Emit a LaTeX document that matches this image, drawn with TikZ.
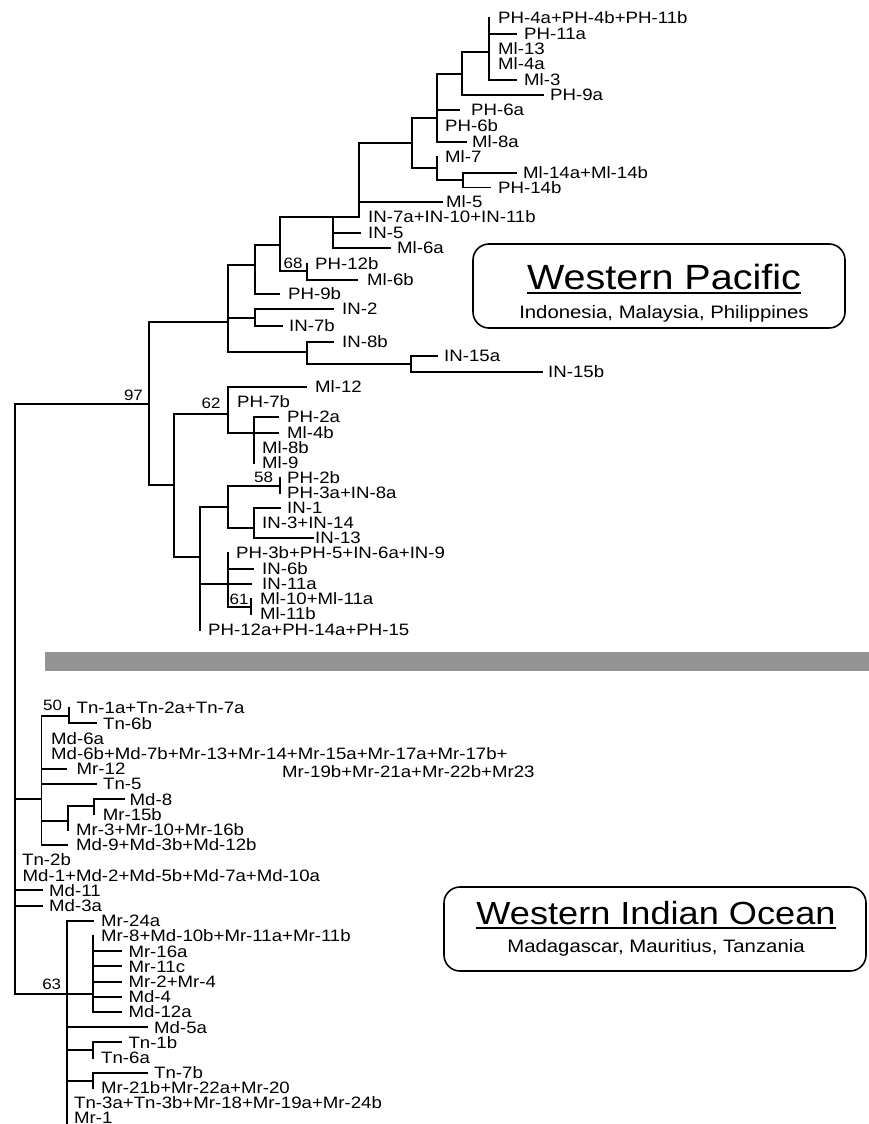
\documentclass[tikz,border=0pt]{standalone}
\usepackage{fontspec}
\setmainfont{Liberation Sans}[FakeStretch=1.13]
\newcommand\leaf[4]{\node[lab] (#1) at (#2,#3) {#4};}
\newcommand\brV[3]{\draw[br] (#1,#2) -- (#1,#3);}
\newcommand\brH[3]{\draw[br] (#2,#1) -- (#3,#1);}
\begin{document}
\begin{tikzpicture}[x=1pt,y=-1pt,
  br/.style={line width=1.9pt,line cap=rect},
  lab/.style={anchor=west,inner sep=0pt,text height=11.8pt,text depth=0pt,font=\fontsize{16.5}{17}\selectfont},
  bs/.style={inner sep=0pt,font=\fontsize{15}{15}\selectfont},
  regbox/.style={draw,rounded corners=16pt,line width=1.6pt,inner sep=0pt},
  titleA/.style={anchor=base,inner sep=0pt,font=\fontsize{35}{35}\selectfont},
  titleB/.style={anchor=base,inner sep=0pt,font=\fontsize{32}{32}\selectfont},
  subt/.style={anchor=base,inner sep=0pt,font=\fontsize{18}{18}\selectfont},
  uline/.style={line width=1.9pt}]
\useasboundingbox (0,0) rectangle (869,1124);

% ================= Western Pacific clade =================
\leaf{PHfour}{498}{18}{PH-4a+PH-4b+PH-11b}
\leaf{PHelevena}{524}{34}{PH-11a}
\leaf{Mlthirteen}{498}{48.5}{Ml-13}
\leaf{Mlfoura}{498}{64}{Ml-4a}
\leaf{Mlthree}{524}{80}{Ml-3}
\leaf{PHninea}{550}{95}{PH-9a}
\leaf{PHsixa}{471}{110}{PH-6a}
\leaf{PHsixb}{445}{126}{PH-6b}
\leaf{Mleighta}{472}{142}{Ml-8a}
\leaf{Mlseven}{445}{157}{Ml-7}
\leaf{Mlfourteen}{523}{173}{Ml-14a+Ml-14b}
\leaf{PHfourteenb}{498}{187.5}{PH-14b}
\leaf{Mlfive}{446}{202}{Ml-5}
\leaf{INsevena}{368}{217}{IN-7a+IN-10+IN-11b}
\leaf{INfive}{368}{233}{IN-5}
\leaf{Mlsixa}{397}{248}{Ml-6a}
\leaf{PHtwelveb}{315}{264}{PH-12b}
\leaf{Mlsixb}{367}{280}{Ml-6b}
\leaf{PHnineb}{288}{294}{PH-9b}
\leaf{INtwo}{342}{309}{IN-2}
\leaf{INsevenb}{289}{326}{IN-7b}
\leaf{INeightb}{342}{342}{IN-8b}
\leaf{INfifteena}{444}{356}{IN-15a}
\leaf{INfifteenb}{548}{372}{IN-15b}
\leaf{Mltwelve}{315}{387}{Ml-12}
\leaf{PHsevenb}{237}{402}{PH-7b}
\leaf{PHtwoa}{287}{417}{PH-2a}
\leaf{Mlfourb}{287}{433}{Ml-4b}
\leaf{Mleightb}{262}{448}{Ml-8b}
\leaf{Mlnine}{262}{463}{Ml-9}
\leaf{PHtwob}{287}{478}{PH-2b}
\leaf{PHthreea}{287}{493}{PH-3a+IN-8a}
\leaf{INone}{287}{508}{IN-1}
\leaf{INthree}{262}{523}{IN-3+IN-14}
\leaf{INthirteen}{315}{538}{IN-13}
\leaf{PHthreeb}{236}{553}{PH-3b+PH-5+IN-6a+IN-9}
\leaf{INsixb}{262}{569}{IN-6b}
\leaf{INelevena}{262}{584}{IN-11a}
\leaf{Mlten}{260}{599}{Ml-10+Ml-11a}
\leaf{Mlelevenb}{260}{614}{Ml-11b}
\leaf{PHtwelvea}{208}{630}{PH-12a+PH-14a+PH-15}

% bootstrap values
\node[bs] (bNinetySeven) at (133.5,395) {97};
\node[bs] (bSixtyEight) at (293,263) {68};
\node[bs] (bSixtyTwo) at (211,403) {62};
\node[bs] (bFiftyEight) at (263.5,477) {58};
\node[bs] (bSixtyOne) at (239,599) {61};

% branches
\brV{489}{18}{80} \brH{52}{462}{489}
\brH{34}{489}{516} \brH{80}{489}{516}
\brV{462}{52}{95} \brH{74}{437}{462}
\brH{95}{462}{543}
\brV{437}{74}{142} \brH{118}{412}{437}
\brH{110}{437}{459} \brH{142}{437}{466}
\brV{437}{157}{180} \brH{168}{412}{437}
\brV{463}{173}{187.5} \brH{180}{437}{463}
\brH{173}{463}{516} \brH{187.5}{463}{490}
\brV{412}{118}{168} \brH{143}{359}{412}
\brV{359}{143}{217} \brH{217}{333}{359}
\brH{202}{359}{442}
\brV{333}{217}{248} \brH{217}{280}{333}
\brH{233}{333}{360} \brH{248}{333}{390}
\brV{280}{217}{271} \brH{245}{255}{280}
\brV{307}{264}{280} \brH{271}{280}{307}
\brH{280}{307}{357}
\brV{255}{245}{294} \brH{265}{228}{255}
\brH{294}{255}{279}
\brV{255}{309}{326} \brH{318}{228}{255}
\brH{309}{255}{333} \brH{326}{255}{282}
\brV{307}{342}{364} \brH{352}{228}{307}
\brH{342}{307}{333}
\brV{411}{356}{372} \brH{364}{307}{411}
\brH{356}{411}{437} \brH{372}{411}{542}
\brV{228}{265}{352} \brH{322}{149}{228}
\brV{149}{322}{485} \brH{404}{15}{149}
\brV{174}{414}{557} \brH{485}{149}{174}
\brV{228}{387}{433} \brH{414}{174}{228}
\brH{387}{228}{306}
\brV{254}{417}{463} \brH{433}{228}{254}
\brH{417}{254}{278} \brH{433}{254}{278}
\brV{200}{507}{630} \brH{557}{174}{200}
\brV{228}{486}{528} \brH{507}{200}{228}
\brV{280}{478}{493} \brH{486}{228}{280}
\brV{254}{508}{538} \brH{528}{228}{254}
\brH{508}{254}{280} \brH{538}{254}{313}
\brV{228}{553}{607} \brH{584}{200}{228}
\brH{569}{228}{253} \brH{584}{228}{251}
\brV{251}{599}{614} \brH{607}{228}{251}

% ================= separator =================
\fill[black!42] (45,652) rectangle (869,671);

% ================= Western Indian Ocean clade =================
\leaf{Tnonea}{76.5}{708}{Tn-1a+Tn-2a+Tn-7a}
\leaf{Tnsixb}{103}{723.2}{Tn-6b}
\leaf{Mdsixa}{51}{738.4}{Md-6a}
\leaf{Mdsixb}{51}{753.6}{Md-6b+Md-7b+Mr-13+Mr-14+Mr-15a+Mr-17a+Mr-17b+}
\leaf{Mrnineteenb}{282}{771.7}{Mr-19b+Mr-21a+Mr-22b+Mr23}
\leaf{Mrtwelve}{76.5}{768.8}{Mr-12}
\leaf{Tnfive}{103}{784}{Tn-5}
\leaf{Mdeight}{129.5}{799.2}{Md-8}
\leaf{Mrfifteenb}{102.6}{814.4}{Mr-15b}
\leaf{Mrthree}{76}{829.6}{Mr-3+Mr-10+Mr-16b}
\leaf{Mdnine}{76}{844.8}{Md-9+Md-3b+Md-12b}
\leaf{Tntwob}{22}{860}{Tn-2b}
\leaf{Mdone}{22.5}{875.2}{Md-1+Md-2+Md-5b+Md-7a+Md-10a}
\leaf{Mdeleven}{49}{890.4}{Md-11}
\leaf{Mdthreea}{49}{905.6}{Md-3a}
\leaf{Mrtwentyfoura}{101}{920.8}{Mr-24a}
\leaf{Mreight}{101}{936}{Mr-8+Md-10b+Mr-11a+Mr-11b}
\leaf{Mrsixteena}{128.3}{951.2}{Mr-16a}
\leaf{Mrelevenc}{128.3}{966.4}{Mr-11c}
\leaf{Mrtwo}{128.3}{981.6}{Mr-2+Mr-4}
\leaf{Mdfour}{128.3}{996.8}{Md-4}
\leaf{Mdtwelvea}{128.3}{1012}{Md-12a}
\leaf{Mdfivea}{154}{1027.2}{Md-5a}
\leaf{Tnoneb}{128.3}{1042.4}{Tn-1b}
\leaf{Tnsixa}{101}{1057.6}{Tn-6a}
\leaf{Tnsevenb}{154}{1072.8}{Tn-7b}
\leaf{Mrtwentyoneb}{101}{1088}{Mr-21b+Mr-22a+Mr-20}
\leaf{Tnthreea}{74}{1102.8}{Tn-3a+Tn-3b+Mr-18+Mr-19a+Mr-24b}
\leaf{Mrone}{74}{1117.6}{Mr-1}

\node[bs] (bFifty) at (52.6,705) {50};
\node[bs] (bSixtyThree) at (51.7,984.3) {63};

% root and Western Indian Ocean branches
\brV{15}{404}{994}
\brV{41.5}{716}{844.8} \brH{799}{15}{41.5}
\brV{69}{708}{723.2} \brH{716}{41.5}{69}
\brH{723.2}{69}{96}
\brH{768.8}{41.5}{66}
\brH{784}{41.5}{96}
\brV{68}{806}{829.6} \brH{821}{41.5}{68}
\brV{94}{799.2}{814.4} \brH{806}{68}{94}
\brH{799.2}{94}{124.5}
\brH{844.8}{41.5}{67}
\brH{890.4}{15}{42}
\brH{905.6}{15}{42}
\brV{67.3}{920.8}{1130} \brH{994}{15}{67.3}
\brH{920.8}{67.3}{93.3}
\brV{92.7}{936}{1012} \brH{994}{67.3}{92.7}
\brH{951.2}{92.7}{120.7}
\brH{966.4}{92.7}{120.7}
\brH{981.6}{92.7}{120.7}
\brH{996.8}{92.7}{120.7}
\brH{1012}{92.7}{120.7}
\brH{1027.2}{67.3}{146.7}
\brV{92.7}{1042.4}{1057.6} \brH{1050}{67.3}{92.7}
\brH{1042.4}{92.7}{120.7}
\brV{92.7}{1072.8}{1088} \brH{1081}{67.3}{92.7}
\brH{1072.8}{92.7}{146.7}

% ================= region boxes =================
\node[regbox,minimum width=372pt,minimum height=84pt] (boxWP) at (659,286) {};
\node[titleA] (tWP) at (664,289) {Western Pacific};
\draw[uline] ([yshift=-4pt]tWP.base west) -- ([yshift=-4pt]tWP.base east);
\node[subt] (sWP) at (664,318) {Indonesia, Malaysia, Philippines};

\node[regbox,minimum width=422pt,minimum height=84pt] (boxWIO) at (655,929) {};
\node[titleB] (tWIO) at (656,924) {Western Indian Ocean};
\draw[uline] ([yshift=-4pt]tWIO.base west) -- ([yshift=-4pt]tWIO.base east);
\node[subt] (sWIO) at (656,952) {Madagascar, Mauritius, Tanzania};
\end{tikzpicture}
\end{document}
